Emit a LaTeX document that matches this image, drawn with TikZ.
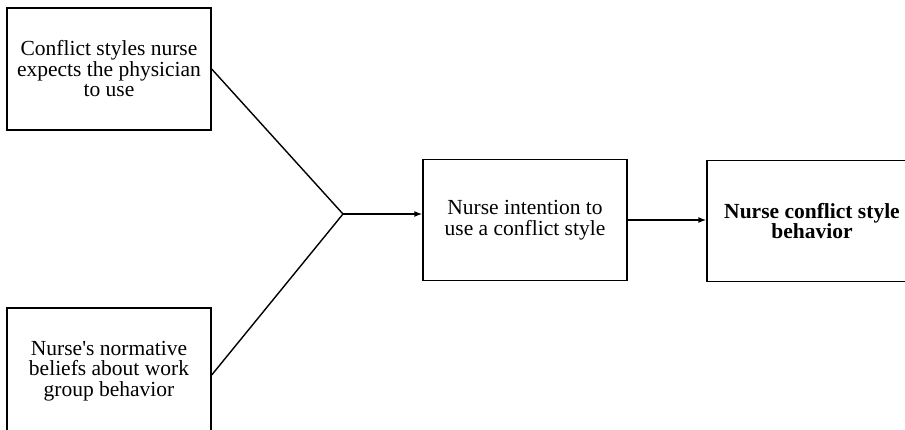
\documentclass[tikz,border=0pt]{standalone}
\usepackage{fontspec}
\setmainfont{Liberation Serif}
\usepackage{tikz}
\usetikzlibrary{arrows.meta}
\usetikzlibrary{calc}
\usetikzlibrary{positioning}
\tikzstyle{box} = [draw, line width=1.4pt, rectangle, align=center, inner sep=0pt, font=\fontsize{21.5}{20.5}\selectfont]
\tikzstyle{link} = [line width=1.4pt]

\begin{document}
\begin{tikzpicture}[x=1pt, y=-1pt, >={Latex[length=8pt, width=6pt]}]
\useasboundingbox (0,0) rectangle (905,430);
\clip (0,0) rectangle (905,430);
\node [box, minimum width=204pt, minimum height=122pt] (expect) at (109,69)
	{Conflict styles nurse\\expects the physician\\to use};
\node [box, minimum width=204pt, minimum height=126pt] (norms) at (109,371)
	{Nurse\textquotesingle s normative\\beliefs about work\\group behavior};
\node [box, minimum width=204pt, minimum height=121pt] (intent) at (525,220)
	{Nurse intention to\\use a conflict style};
\node [box, minimum width=210pt, minimum height=121pt] (behav) at (812,221)
	{\textbf{Nurse conflict style}\\\textbf{behavior}};
\coordinate (junc) at (343,214);
\draw [link] (expect.east) -- (junc);
\draw [link] ($(norms.east)+(0,4)$) -- (junc);
\draw [link, ->] (junc) -- (junc -| intent.west);
\draw [link, ->] (intent.east) -- (intent.east -| behav.west);
\end{tikzpicture}
\end{document}
